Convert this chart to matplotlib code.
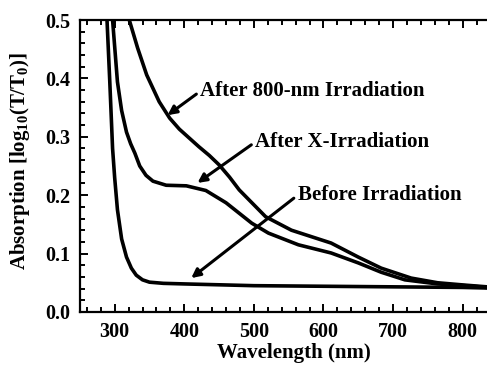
"""Absorption spectra before/after irradiation."""
import matplotlib
matplotlib.use("Agg")
import matplotlib.pyplot as plt
from matplotlib.ticker import MultipleLocator, FormatStrFormatter

plt.rcParams["font.family"] = ["Liberation Serif", "DejaVu Serif"]
plt.rcParams["font.weight"] = "bold"
plt.rcParams["mathtext.fontset"] = "custom"
plt.rcParams["mathtext.rm"] = "Liberation Serif:bold"
plt.rcParams["mathtext.it"] = "Liberation Serif:bold:italic"
plt.rcParams["mathtext.bf"] = "Liberation Serif:bold"

# wavelength (nm) / absorption values
before_wl = [285, 289, 293, 297, 300, 304, 310, 317, 324, 331, 340, 350, 370, 400,
             500, 600, 700, 800, 835]
before_abs = [0.60, 0.50, 0.394, 0.28, 0.23, 0.175, 0.125, 0.094, 0.075, 0.063,
              0.055, 0.051, 0.049, 0.048, 0.045, 0.044, 0.043, 0.042, 0.041]

xray_wl = [293, 297, 304, 310, 317, 323, 329, 336, 345, 355, 374, 403, 431, 460,
           497, 521, 564, 611, 650, 683, 717, 764, 803, 835]
xray_abs = [0.60, 0.50, 0.394, 0.345, 0.308, 0.288, 0.272, 0.250, 0.234, 0.224,
            0.217, 0.216, 0.208, 0.187, 0.152, 0.135, 0.115, 0.101, 0.084, 0.068,
            0.055, 0.048, 0.045, 0.042]

ir_wl = [315, 321, 333, 346, 364, 379, 393, 407, 421, 436, 450, 465, 479, 517, 554,
         611, 650, 683, 726, 764, 803, 835]
ir_abs = [0.56, 0.50, 0.452, 0.406, 0.36, 0.332, 0.313, 0.298, 0.283, 0.268, 0.252,
          0.231, 0.209, 0.163, 0.140, 0.118, 0.094, 0.075, 0.058, 0.050, 0.046, 0.043]

# annotation label, arrow tip (wl, abs), text anchor (wl, abs)
labels = ["After 800-nm Irradiation", "After X-Irradiation", "Before Irradiation"]
tips = [(376, 0.337), (419, 0.221), (410, 0.058)]
text_pos = [(423, 0.378), (502, 0.291), (563, 0.200)]

fig = plt.figure(figsize=(4.87, 3.67), dpi=100)
ax = fig.add_axes([0.164, 0.150, 0.836, 0.7955])

for wl, ab in [(before_wl, before_abs), (xray_wl, xray_abs), (ir_wl, ir_abs)]:
    ax.plot(wl, ab, color="black", lw=2.6, solid_capstyle="round",
            solid_joinstyle="round")

for lab, tip, pos in zip(labels, tips, text_pos):
    ax.annotate(lab, xy=tip, xytext=pos, ha="left", va="center",
                fontsize=15, fontweight="bold",
                arrowprops=dict(arrowstyle="-|>", color="black", lw=2.2,
                                mutation_scale=13, shrinkA=1, shrinkB=0,
                                relpos=(0, 0.5)))

ax.set_xlim(250, 835)
ax.set_ylim(0, 0.5)
ax.xaxis.set_major_locator(MultipleLocator(100))
ax.xaxis.set_minor_locator(MultipleLocator(20))
ax.yaxis.set_major_locator(MultipleLocator(0.1))
ax.yaxis.set_minor_locator(MultipleLocator(0.02))
ax.yaxis.set_major_formatter(FormatStrFormatter("%.1f"))

ax.spines["right"].set_visible(False)
for side in ["left", "top", "bottom"]:
    ax.spines[side].set_linewidth(1.6)
ax.tick_params(which="both", direction="in", top=True, right=False, width=1.4,
               labelsize=14.5, pad=7)
ax.tick_params(which="major", length=6)
ax.tick_params(which="minor", length=3.5)

ax.set_xlabel("Wavelength (nm)", fontsize=15, fontweight="bold")
ax.set_ylabel(r"Absorption [log$_{10}$(T/T$_0$)]", fontsize=15,
              fontweight="bold")
ax.xaxis.set_label_coords(0.526, -0.108)
ax.yaxis.set_label_coords(-0.117, 0.517)

fig.savefig("out.png", dpi=100)
